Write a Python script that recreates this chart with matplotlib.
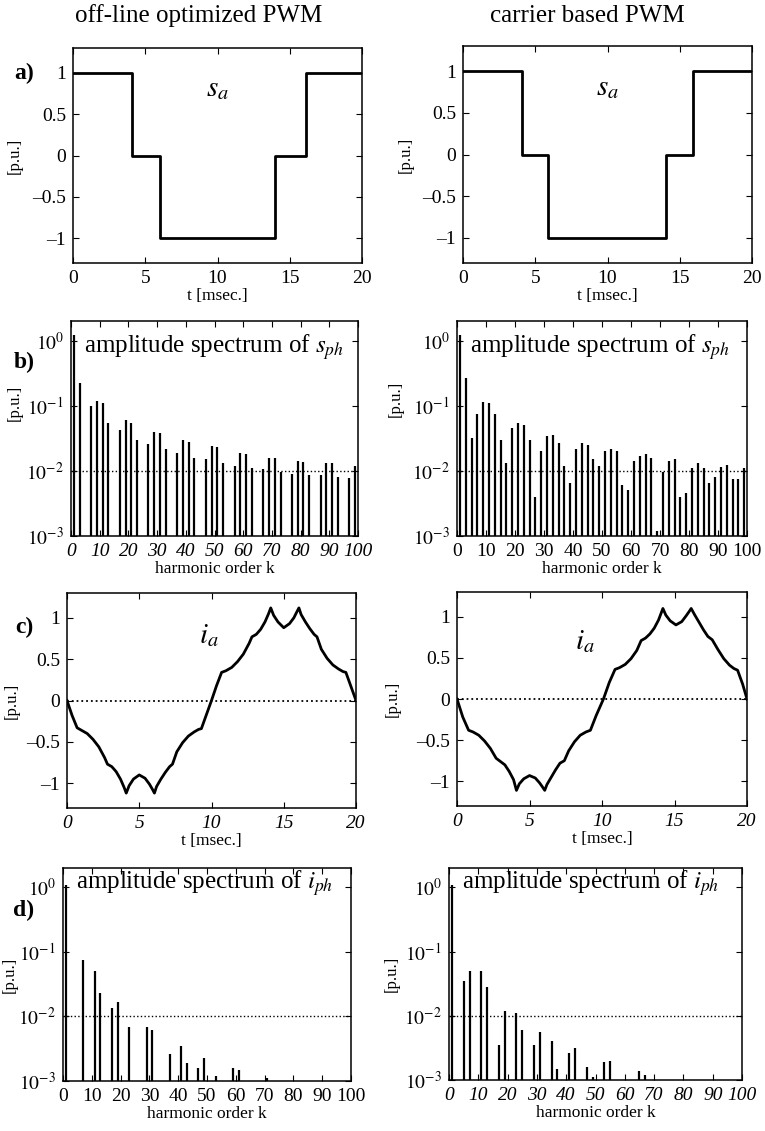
import numpy as np
import matplotlib.pyplot as plt

plt.rcParams['font.family'] = ['Liberation Serif', 'DejaVu Serif']
plt.rcParams['mathtext.fontset'] = 'stix'

# ---------------------------------------------------------------
# switching function s_a: switching instants [ms] and levels
sa_t_off = [0, 4.1, 6.0, 14.0, 16.1, 20]
sa_t_car = [0, 4.1, 5.9, 14.05, 15.95, 20]
sa_level = [1, 0, -1, 0, 1, 1]

# phase current i_a [p.u.] over one period
ia_t_off = [0.0, 0.35, 0.7, 1.0, 1.4, 1.8, 2.2, 2.6, 2.8, 3.1, 3.4, 3.7, 3.95, 4.1,
            4.3, 4.6, 5.0, 5.4, 5.7, 5.9, 6.05, 6.2, 6.5, 6.8, 7.1, 7.3, 7.6, 8.0,
            8.4, 8.8, 9.1, 9.3, 9.65, 10.0, 10.35, 10.7, 11.0, 11.4, 11.8, 12.2,
            12.6, 12.8, 13.1, 13.4, 13.7, 13.95, 14.1, 14.3, 14.6, 15.0, 15.4, 15.7,
            15.9, 16.05, 16.2, 16.5, 16.8, 17.1, 17.3, 17.6, 18.0, 18.4, 18.8, 19.1,
            19.3, 19.65, 20.0]
ia_off = [0.0, -0.18, -0.33, -0.36, -0.40, -0.47, -0.56, -0.69, -0.77, -0.80, -0.86,
          -0.95, -1.05, -1.12, -1.03, -0.95, -0.90, -0.94, -1.01, -1.07, -1.12, -1.04,
          -0.95, -0.87, -0.80, -0.77, -0.62, -0.51, -0.43, -0.38, -0.35, -0.34, -0.17,
          0.0, 0.18, 0.34, 0.36, 0.40, 0.47, 0.56, 0.69, 0.77, 0.80, 0.86, 0.95, 1.05,
          1.12, 1.03, 0.95, 0.88, 0.93, 1.00, 1.07, 1.12, 1.04, 0.95, 0.87, 0.80, 0.77,
          0.62, 0.51, 0.43, 0.38, 0.35, 0.34, 0.17, 0.0]

ia_t_car = [0.0, 0.4, 0.8, 1.1, 1.5, 1.9, 2.3, 2.7, 3.0, 3.3, 3.6, 3.9, 4.1,
            4.3, 4.6, 5.0, 5.4, 5.7, 5.9, 6.05, 6.2, 6.5, 6.8, 7.1, 7.4, 7.7, 8.1,
            8.5, 8.9, 9.2, 9.6, 10.1, 10.5, 10.9, 11.2, 11.6, 12.0, 12.4, 12.7,
            13.0, 13.3, 13.6, 13.9, 14.2, 14.4, 14.7, 15.1, 15.5, 15.8, 16.0, 16.15,
            16.4, 16.7, 17.0, 17.3, 17.6, 18.0, 18.4, 18.8, 19.1, 19.35, 19.7, 20.0]
ia_car = [0.0, -0.22, -0.38, -0.40, -0.44, -0.51, -0.60, -0.72, -0.76, -0.80, -0.88,
          -0.98, -1.11, -1.03, -0.97, -0.93, -0.96, -1.02, -1.07, -1.11, -1.04,
          -0.95, -0.86, -0.78, -0.75, -0.63, -0.52, -0.44, -0.40, -0.38, -0.20, 0.0,
          0.20, 0.36, 0.38, 0.42, 0.49, 0.59, 0.71, 0.74, 0.79, 0.86, 0.96, 1.10,
          1.02, 0.95, 0.90, 0.94, 1.01, 1.06, 1.10, 1.02, 0.93, 0.84, 0.76, 0.72,
          0.60, 0.49, 0.41, 0.37, 0.35, 0.18, 0.0]

# amplitude spectrum of s_ph (harmonic order, amplitude [p.u.])
k_s_off = [1, 3, 7, 9, 11, 13, 17, 19, 21, 23, 27, 29, 31, 33, 37, 39, 41, 43,
           47, 49, 51, 53, 57, 59, 61, 63, 67, 69, 71, 73, 77, 79, 81, 83,
           87, 89, 91, 93, 97, 99]
s_off = [1.2, 0.22, 0.1, 0.12, 0.11, 0.055, 0.042, 0.06, 0.055, 0.03, 0.026, 0.04,
         0.038, 0.022, 0.019, 0.03, 0.028, 0.016, 0.015, 0.024, 0.023, 0.013,
         0.012, 0.019, 0.018, 0.011, 0.0105, 0.016, 0.0155, 0.0095, 0.009, 0.014,
         0.0135, 0.0085, 0.0085, 0.013, 0.013, 0.008, 0.0078, 0.012]

k_s_car = list(range(1, 101, 2))
s_car = [1.2, 0.27, 0.032, 0.075, 0.115, 0.11, 0.075, 0.03, 0.013, 0.045, 0.055,
         0.05, 0.03, 0.004, 0.02, 0.034, 0.035, 0.027, 0.012, 0.0065, 0.022, 0.027,
         0.025, 0.015, 0.012, 0.02, 0.022, 0.02, 0.006, 0.005, 0.014, 0.017, 0.018,
         0.016, 0.0012, 0.0095, 0.014, 0.015, 0.004, 0.0045, 0.011, 0.013, 0.011,
         0.0065, 0.008, 0.0115, 0.0125, 0.0075, 0.0075, 0.011]

# amplitude spectrum of i_ph
k_i_off = [1, 7, 11, 13, 17, 19, 23, 29, 31, 37, 41, 43, 47, 49, 53, 59, 61, 71]
i_off = [1.1, 0.075, 0.05, 0.023, 0.0135, 0.017, 0.0069, 0.0069, 0.0062, 0.0026,
         0.0035, 0.0019, 0.0016, 0.0023, 0.0012, 0.0016, 0.0015, 0.0011]

k_i_car = [1, 5, 7, 11, 13, 17, 19, 23, 25, 29, 31, 35, 37, 41, 43, 47, 49, 53, 55,
           65, 67]
i_car = [1.1, 0.035, 0.05, 0.05, 0.028, 0.0035, 0.012, 0.011, 0.006, 0.0035,
         0.0055, 0.004, 0.0015, 0.0026, 0.0032, 0.0016, 0.0011, 0.0019, 0.002,
         0.0014, 0.0012]

lin_ticks = [-1, -0.5, 0, 0.5, 1]
lin_labels = ['\u20131', '\u20130.5', '0', '0.5', '1']
log_ticks = [1e-3, 1e-2, 1e-1, 1]
log_labels = [r'$10^{-3}$', r'$10^{-2}$', r'$10^{-1}$', r'$10^{0}$']
t_ticks = [0, 5, 10, 15, 20]
k_ticks = list(range(0, 101, 10))

#-------------------------------------------------
W, H = 765, 1131
fig = plt.figure(figsize=(W / 100, H / 100), dpi=100)


def ejes(l, t, r, b, ylab_x, ylab_y=0.5):
    '''axes given by its pixel box (left, top, right, bottom);
    ylab_x is the pixel column where the [p.u.] label is centred'''
    ax = fig.add_axes([l / W, 1 - b / H, (r - l) / W, (b - t) / H])
    ax.tick_params(direction='in', top=True, right=True, length=4, width=0.8,
                   labelsize=14, pad=5)
    for s in ax.spines.values():
        s.set_linewidth(1.1)
    ax.set_ylabel('[p.u.]', fontsize=12, va='center')
    ax.yaxis.set_label_coords((ylab_x - l) / (r - l), ylab_y)
    return ax


def onda(ax, italic):
    ax.set_xlim(0, 20)
    ax.set_ylim(-1.3, 1.3)
    ax.set_xticks(t_ticks, [str(v) for v in t_ticks],
                  fontstyle='italic' if italic else 'normal')
    ax.set_yticks(lin_ticks, lin_labels)
    ax.set_xlabel('t [msec.]', fontsize=12.5, labelpad=1)


def espectro(ax, k, v, texto, italic, ytxt):
    ax.set_yscale('log')
    ax.vlines(k, 1e-3, v, colors='k', lw=1.6)
    ax.axhline(1e-2, ls=':', lw=1, color='k')
    ax.set_xlim(0, 100)
    ax.set_ylim(1e-3, 2)
    ax.set_xticks(k_ticks, [str(v) for v in k_ticks],
                  fontstyle='italic' if italic else 'normal')
    ax.set_yticks(log_ticks, log_labels)
    ax.yaxis.set_minor_locator(plt.NullLocator())
    ax.set_xlabel('harmonic order k', fontsize=12.5, labelpad=1)
    ax.text(0.045, ytxt, texto, transform=ax.transAxes,
            fontsize=18, ha='left', va='center')


# a) switching function
ax = ejes(73, 48, 362, 263, 15)
ax.step(sa_t_off, sa_level, where='post', color='k', lw=2)
onda(ax, False)
ax.text(10, 0.8, r'$s_a$', fontsize=21, ha='center', va='center')

ax = ejes(463, 46, 752, 263, 406)
ax.step(sa_t_car, sa_level, where='post', color='k', lw=2)
onda(ax, False)
ax.text(10, 0.8, r'$s_a$', fontsize=21, ha='center', va='center')

# b) spectrum of the switching function
ax = ejes(71, 321, 358, 536, 15, 0.62)
espectro(ax, k_s_off, s_off, r'amplitude spectrum of $s_{ph}$', True, 0.88)
ax = ejes(457, 321, 747, 536, 396, 0.64)
espectro(ax, k_s_car, s_car, r'amplitude spectrum of $s_{ph}$', False, 0.88)

# c) phase current
ax = ejes(67, 593, 356, 808, 12)
ax.plot(ia_t_off, ia_off, color='k', lw=2)
ax.axhline(0, ls=':', lw=1.3, color='k')
onda(ax, True)
ax.text(9.8, 0.78, r'$i_a$', fontsize=21, ha='center', va='center')

ax = ejes(457, 592, 747, 806, 393)
ax.plot(ia_t_car, ia_car, color='k', lw=2)
ax.axhline(0, ls=':', lw=1.3, color='k')
onda(ax, True)
ax.text(8.8, 0.7, r'$i_a$', fontsize=21, ha='center', va='center')

# d) spectrum of the current
ax = ejes(63, 868, 351, 1081, 10)
espectro(ax, k_i_off, i_off, r'amplitude spectrum of $i_{ph}$', False, 0.93)
ax = ejes(449, 868, 742, 1080, 392)
espectro(ax, k_i_car, i_car, r'amplitude spectrum of $i_{ph}$', True, 0.93)

# column titles and panel letters
fig.text(199 / W, 1 - 16 / H, 'off-line optimized PWM', fontsize=18,
         ha='center', va='center')
fig.text(587 / W, 1 - 16 / H, 'carrier based PWM', fontsize=18,
         ha='center', va='center')
for letra, y in zip(['a)', 'b)', 'c)', 'd)'], [73, 362, 627, 910]):
    fig.text(24 / W, 1 - y / H, letra, fontsize=17, fontweight='bold',
             ha='center', va='center')

fig.savefig('out.png', dpi=100)
